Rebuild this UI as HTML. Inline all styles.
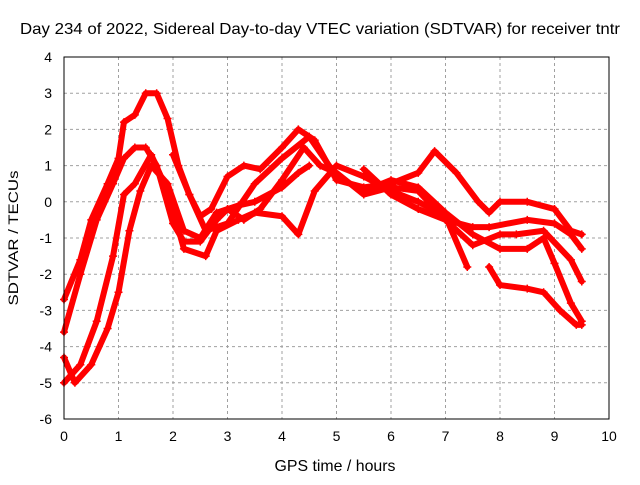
<!DOCTYPE html>
<html><head><meta charset="utf-8"><style>
body{margin:0;background:#fff}
svg{font-family:"Liberation Sans",sans-serif;font-size:14px}
.big{font-size:16px}
</style></head><body>
<svg id="c" width="640" height="480">
<text class="big" x="320" y="34" text-anchor="middle" textLength="600" lengthAdjust="spacingAndGlyphs">Day 234 of 2022, Sidereal Day-to-day VTEC variation (SDTVAR) for receiver tntr</text>
<text class="big" x="335" y="471" text-anchor="middle" textLength="121" lengthAdjust="spacingAndGlyphs">GPS time / hours</text>
<text transform="translate(18,238) rotate(-90)" text-anchor="middle" textLength="135" lengthAdjust="spacingAndGlyphs">SDTVAR / TECUs</text>
<g id="grid"></g><g id="ticks"></g><g id="series"></g>
<rect x="64" y="57" width="545" height="362" fill="none" stroke="#000" stroke-width="1"/>
</svg>
<script>
const xTicks=[0,1,2,3,4,5,6,7,8,9,10];
const yTicks=[4,3,2,1,0,-1,-2,-3,-4,-5,-6];
const sA=[[0,-2.7],[0.3,-1.6],[0.5,-0.5],[0.8,0.5],[1,1.2],[1.1,2.2],[1.3,2.4],[1.5,3],[1.7,3],[1.9,2.3],[2.1,1.0],[2.3,0.2],[2.5,-0.4],[2.7,-0.2],[3,0.7],[3.3,1.0],[3.6,0.9],[4,1.5],[4.3,2.0],[4.6,1.7],[5,0.6],[5.5,0.4],[6,0.5],[6.5,0.8],[6.8,1.4],[7.2,0.8],[7.6,0.0],[7.8,-0.3],[8,0.0],[8.5,0.0],[9,-0.2],[9.3,-0.8],[9.5,-0.9]];
const sB=[[0,-3.6],[0.3,-2],[0.6,-0.5],[0.9,0.5],[1.1,1.2],[1.3,1.5],[1.5,1.5],[1.7,1.0],[2,-0.6],[2.2,-1.1],[2.5,-1.1],[2.8,-0.5],[3,-0.2],[3.3,-0.5],[3.6,-0.2],[4,0.6],[4.4,1.5],[4.7,1.0],[5,0.8],[5.5,0.2],[6,0.4],[6.5,0.3],[7,-0.5],[7.5,-1.2],[8,-0.9],[8.3,-0.9],[8.8,-0.8],[9.3,-1.6],[9.5,-2.2]];
const sC=[[0,-5],[0.3,-4.5],[0.6,-3.3],[0.9,-1.5],[1.1,0.2],[1.3,0.5],[1.6,1.3],[1.9,0.3],[2.2,-1.3],[2.6,-1.5],[2.8,-0.8],[3.2,-0.5],[3.5,-0.3],[4,-0.4],[4.3,-0.9],[4.6,0.3],[5,1.0],[5.5,0.7],[6,0.3],[6.5,0.0],[7,-0.4],[7.4,-1.8]];
const sD=[[0,-4.3],[0.2,-5],[0.5,-4.5],[0.8,-3.5],[1,-2.5],[1.2,-0.8],[1.4,0.3],[1.6,1.0],[1.9,0.5],[2.2,-0.8],[2.5,-1.0],[2.8,-0.3],[3.2,-0.1],[3.5,0.0],[4,0.4],[4.3,0.8],[4.5,1.0]];
const sE=[[2.0,1.3],[2.3,0.2],[2.6,-0.8],[3.0,-0.6],[3.5,0.5],[4,1.2],[4.5,1.8],[5,0.7],[5.5,0.3],[6,0.6],[6.5,0.4],[7,-0.3],[7.5,-0.9],[8,-1.3],[8.5,-1.3],[8.8,-1.0],[9,-1.7],[9.3,-2.8],[9.5,-3.3]];
const sF=[[5.5,0.9],[6,0.2],[6.5,-0.2],[7,-0.5],[7.5,-0.7],[7.8,-0.7],[8.5,-0.5],[9,-0.6],[9.3,-0.9],[9.5,-1.3]];
const sG=[[7.8,-1.8],[8,-2.3],[8.5,-2.4],[8.8,-2.5],[9.1,-3.0],[9.4,-3.4],[9.5,-3.4]];
const allSeries=[sA,sB,sC,sD,sE,sF,sG];
const X=v=>64+v*54.5, Y=v=>419-(v+6)*36.2;
const NS="http://www.w3.org/2000/svg";
function mk(t,a,p){const e=document.createElementNS(NS,t);for(const k in a)e.setAttribute(k,a[k]);p.appendChild(e);return e;}
const g=document.getElementById('grid'),tk=document.getElementById('ticks'),sr=document.getElementById('series');
xTicks.forEach(v=>{
 if(v>0&&v<10){const l=mk('line',{x1:X(v),x2:X(v),y1:57,y2:419,stroke:'#a0a0a0','stroke-dasharray':'3,3'},g);
 
 }
 const t=mk('text',{x:X(v),y:441,'text-anchor':'middle'},tk);t.textContent=v;
 
 
});
yTicks.forEach(v=>{
 if(v<4&&v>-6){const l=mk('line',{x1:64,x2:609,y1:Y(v),y2:Y(v),stroke:'#a0a0a0','stroke-dasharray':'3,3'},g);
 
 }
 const t=mk('text',{x:52,y:Y(v)+5,'text-anchor':'end'},tk);t.textContent=v;
 
 
});
allSeries.forEach((s,i)=>{
 const p=mk('polyline',{points:s.map(d=>X(d[0])+','+Y(d[1])).join(' '),fill:'none',stroke:'#ff0000','stroke-width':6,'stroke-linejoin':'round','stroke-linecap':'round'},sr);
 
 
 s.forEach(d=>{
  const m=mk('path',{d:`M${X(d[0])-4},${Y(d[1])}h8M${X(d[0])},${Y(d[1])-4}v8`,stroke:'#ff0000','stroke-width':1.5},sr);
  
  
 });
});
</script>
</body></html>
